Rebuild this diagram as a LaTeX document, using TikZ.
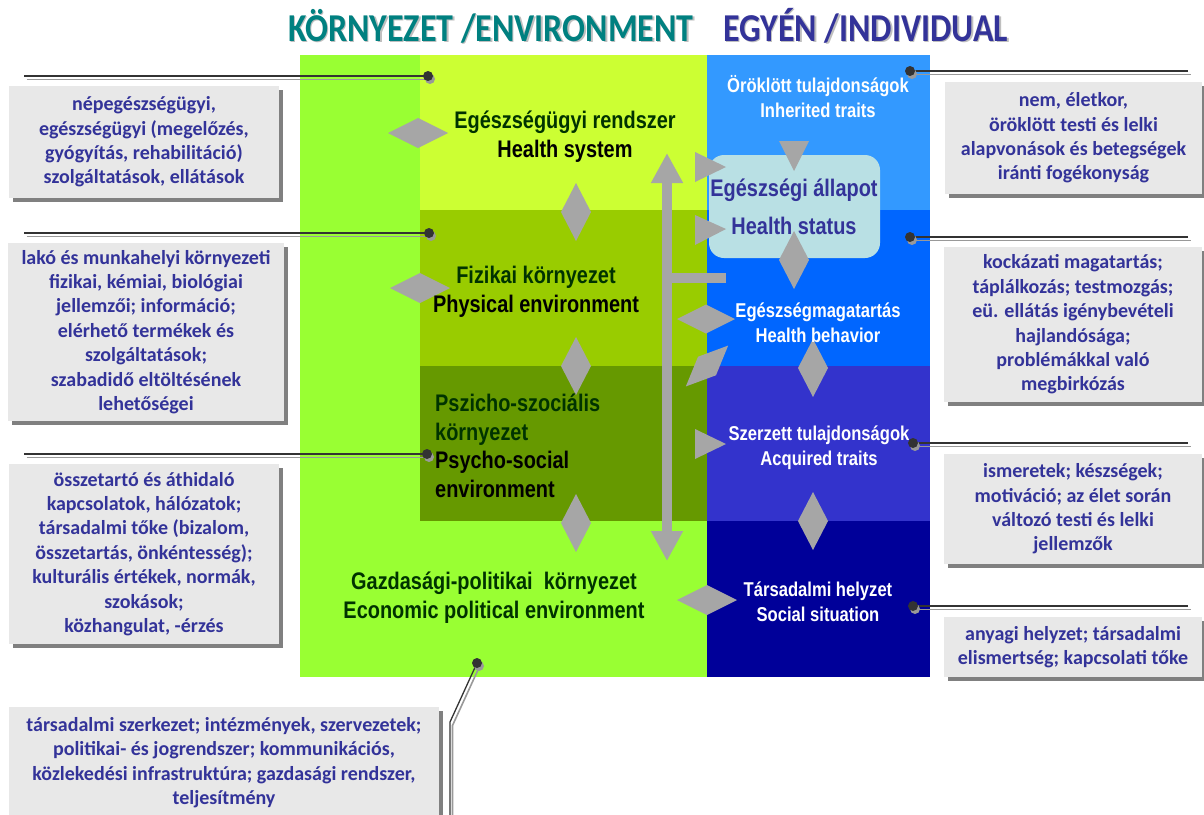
\documentclass[tikz,border=0pt]{standalone}
\usepackage{fontspec}
\setmainfont{Carlito}
\newfontfamily\narrowfont[FakeStretch=0.83]{Liberation Sans}
\newfontfamily\headfont[FakeStretch=0.86]{Carlito}
\usetikzlibrary{shapes.geometric,arrows.meta,shadows}

\definecolor{envlime}{HTML}{99FF33}
\definecolor{hsysgreen}{HTML}{CCFF33}
\definecolor{physgreen}{HTML}{99CC00}
\definecolor{psygreen}{HTML}{669900}
\definecolor{inhblue}{HTML}{3399FF}
\definecolor{behblue}{HTML}{0066FF}
\definecolor{acqblue}{HTML}{3333CC}
\definecolor{socblue}{HTML}{000099}
\definecolor{statusfill}{HTML}{B9E0E4}
\definecolor{linkgrey}{HTML}{A6A6A6}
\definecolor{notefill}{HTML}{E8E8E8}
\definecolor{notetext}{HTML}{333399}
\definecolor{envtext}{HTML}{003300}
\definecolor{headteal}{HTML}{008080}
\definecolor{leaddark}{HTML}{333333}

\begin{document}
\begin{tikzpicture}[x=1pt,y=-1pt,
  panel/.style={rectangle, inner sep=0, outer sep=0, anchor=north west, draw=none},
  note/.style={rectangle, anchor=north west, inner sep=0, outer sep=0, fill=notefill,
    text=notetext, align=center, font=\bfseries\fontsize{20}{24.4}\selectfont,
    drop shadow={shadow xshift=4pt, shadow yshift=-4pt, fill=black!50, opacity=1}},
  hdia/.style={diamond, fill=linkgrey, inner sep=0, outer sep=0, minimum width=60pt, minimum height=30pt},
  vdia/.style={diamond, fill=linkgrey, inner sep=0, outer sep=0, minimum width=30pt, minimum height=58pt},
  tri/.style={fill=linkgrey},
  plabel/.style={font=\narrowfont\bfseries\fontsize{24}{28.5}\selectfont, align=center, inner sep=0, anchor=base},
  wlabel/.style={font=\narrowfont\bfseries\fontsize{20}{25}\selectfont, align=center, inner sep=0, anchor=base, text=white},
  headline/.style={font=\headfont\bfseries\fontsize{39.5}{42}\selectfont, inner sep=0, anchor=base west},
  leaddot/.style={circle, fill=leaddark, inner sep=0, minimum size=10pt,
    drop shadow={shadow xshift=2pt, shadow yshift=-3pt, fill=black!40, opacity=1}},
  leadline/.style={draw=leaddark, line width=1.3pt},
  leadshade/.style={draw=black!40, line width=1.6pt, transform canvas={xshift=2.5pt, yshift=-3.5pt}}
]
\useasboundingbox (0,0) rectangle (1204,814);

% headings
\node[headline, text=black!25] at (289.5,42.5) {KÖRNYEZET /ENVIRONMENT};
\node[headline, text=headteal] (hEnv) at (288,41) {KÖRNYEZET /ENVIRONMENT};
\node[headline, text=black!25] at (724.5,42.5) {EGYÉN /INDIVIDUAL};
\node[headline, text=notetext] (hInd) at (723,41) {EGYÉN /INDIVIDUAL};

% environment column
\node[panel, fill=envlime, minimum width=407pt, minimum height=622pt] (env) at (300,55) {};
\node[panel, fill=hsysgreen, minimum width=287pt, minimum height=155pt] (hsys) at (420,55) {};
\node[panel, fill=physgreen, minimum width=287pt, minimum height=156pt] (phys) at (420,210) {};
\node[panel, fill=psygreen, minimum width=287pt, minimum height=155pt] (psy) at (420,366) {};

% individual column
\node[panel, fill=inhblue, minimum width=223pt, minimum height=155pt] (inh) at (707,55) {};
\node[panel, fill=behblue, minimum width=223pt, minimum height=156pt] (beh) at (707,210) {};
\node[panel, fill=acqblue, minimum width=223pt, minimum height=155pt] (acq) at (707,366) {};
\node[panel, fill=socblue, minimum width=223pt, minimum height=156pt] (soc) at (707,521) {};

% health status
\node[panel, fill=statusfill, rounded corners=15pt, minimum width=171pt, minimum height=103pt] (status) at (709,155) {};

% links between the layers
\node[hdia] (dHs) at (418,133) {};
\node[hdia] (dPh) at (420,288) {};
\node[vdia] (dHsPh) at (576,212) {};
\node[vdia] (dPhPs) at (576,366) {};
\node[vdia] (dPsEc) at (576,523) {};
\node[vdia] (dStBeh) at (794,260) {};
\node[vdia] (dBehAcq) at (813,368) {};
\node[vdia] (dAcqSoc) at (813,521) {};
\node[hdia] (dEcSoc) at (707,600) {};
\node[hdia, minimum width=58pt, minimum height=29pt] (dPhBeh) at (706,319) {};
\node[diamond, fill=linkgrey, inner sep=0, minimum width=59pt, minimum height=26pt, rotate=44] (dPsBeh) at (707,366) {};

\fill[tri] (695,152) -- (726,167) -- (695,182) -- cycle;
\fill[tri] (695,215) -- (726,229) -- (695,245) -- cycle;
\fill[tri] (695,429) -- (726,444) -- (695,459) -- cycle;
\fill[tri] (779,141) -- (809,141) -- (794,171) -- cycle;

\coordinate (axTop) at (667,153);
\coordinate (axBot) at (667,561);
\draw[linkgrey, line width=10pt, {Triangle[width=30pt,length=30pt]}-{Triangle[width=30pt,length=30pt]}] (axTop) -- (axBot);
\fill[linkgrey] (672,273) rectangle (726,283);

% layer labels (anchored at the baseline of the last line)
\node[plabel] (tHs) at (565,157) {\textcolor{envtext}{Egészségügyi rendszer}\\Health system};
\node[plabel] (tPh) at (536,312) {\textcolor{envtext}{Fizikai környezet}\\Physical environment};
\node[plabel, anchor=base west, align=left] (tPs) at (435,497)
  {\textcolor{envtext}{Pszicho-szociális}\\\textcolor{envtext}{környezet}\\Psycho-social\\environment};
\node[plabel, text=envtext] (tEc) at (494,618) {Gazdasági-politikai~ környezet\\Economic political environment};

\node[wlabel] (tInh) at (818,117) {Öröklött tulajdonságok\\Inherited traits};
\node[plabel, text=notetext, font=\narrowfont\bfseries\fontsize{24}{38}\selectfont] (tSt) at (794,234) {Egészségi állapot\\Health status};
\node[wlabel] (tBeh) at (818,342) {Egészségmagatartás\\Health behavior};
\node[wlabel] (tAcq) at (819,465) {Szerzett tulajdonságok\\Acquired traits};
\node[wlabel] (tSoc) at (818,621) {Társadalmi helyzet\\Social situation};

% notes
\node[note, minimum width=270pt, minimum height=112pt] (nHs) at (9,86)
  {népegészségügyi,\\egészségügyi (megelőzés,\\gyógyítás, rehabilitáció)\\szolgáltatások, ellátások};
\node[note, minimum width=276pt, minimum height=178pt] (nPh) at (8,243)
  {lakó és munkahelyi környezeti\\fizikai, kémiai, biológiai\\jellemzői; információ;\\elérhető termékek és\\szolgáltatások;\\szabadidő eltöltésének\\lehetőségei};
\node[note, minimum width=270pt, minimum height=180pt] (nPs) at (9,464)
  {összetartó és áthidaló\\kapcsolatok, hálózatok;\\társadalmi tőke (bizalom,\\összetartás, önkéntesség);\\kulturális értékek, normák,\\szokások;\\közhangulat, -érzés};
\node[note, minimum width=430pt, minimum height=111pt] (nEc) at (9,707)
  {társadalmi szerkezet; intézmények, szervezetek;\\politikai- és jogrendszer; kommunikációs,\\közlekedési infrastruktúra; gazdasági rendszer,\\teljesítmény};
\node[note, minimum width=257pt, minimum height=112pt] (nInh) at (945,82)
  {nem, életkor,\\öröklött testi és lelki\\alapvonások és betegségek\\iránti fogékonyság};
\node[note, minimum width=258pt, minimum height=155pt] (nBeh) at (944,247)
  {kockázati magatartás;\\táplálkozás; testmozgás;\\eü. ellátás igénybevételi\\hajlandósága;\\problémákkal való\\megbirkózás};
\node[note, minimum width=258pt, minimum height=110pt] (nAcq) at (944,454)
  {ismeretek; készségek;\\motiváció; az élet során\\változó testi és lelki\\jellemzők};
\node[note, minimum width=258pt, minimum height=60pt] (nSoc) at (944,617)
  {anyagi helyzet; társadalmi\\elismertség; kapcsolati tőke};

% leader lines
\coordinate (pHs) at (428,76);   \coordinate (eHs) at (24,76);
\coordinate (pPh) at (429,233);  \coordinate (ePh) at (24,233);
\coordinate (pPs) at (427,454);  \coordinate (ePs) at (24,454);
\coordinate (pEc) at (477,663);  \coordinate (kEc) at (450,722); \coordinate (eEc) at (450,830);
\coordinate (pInh) at (910,71);  \coordinate (eInh) at (1188,71);
\coordinate (pBeh) at (910,237); \coordinate (eBeh) at (1188,237);
\coordinate (pAcq) at (913,443); \coordinate (eAcq) at (1188,443);
\coordinate (pSoc) at (913,606); \coordinate (eSoc) at (1188,606);

\foreach \p/\e in {pHs/eHs, pPh/ePh, pPs/ePs, pInh/eInh, pBeh/eBeh, pAcq/eAcq, pSoc/eSoc}{
  \draw[leadshade] (\e) -- (\p);
  \draw[leadline] (\e) -- (\p);
}
\draw[leadshade] (eEc) -- (kEc) -- (pEc);
\draw[leadline] (eEc) -- (kEc) -- (pEc);

\foreach \p in {pHs, pPh, pPs, pEc, pInh, pBeh, pAcq, pSoc}
  \node[leaddot] (dot-\p) at (\p) {};
\end{tikzpicture}
\end{document}
